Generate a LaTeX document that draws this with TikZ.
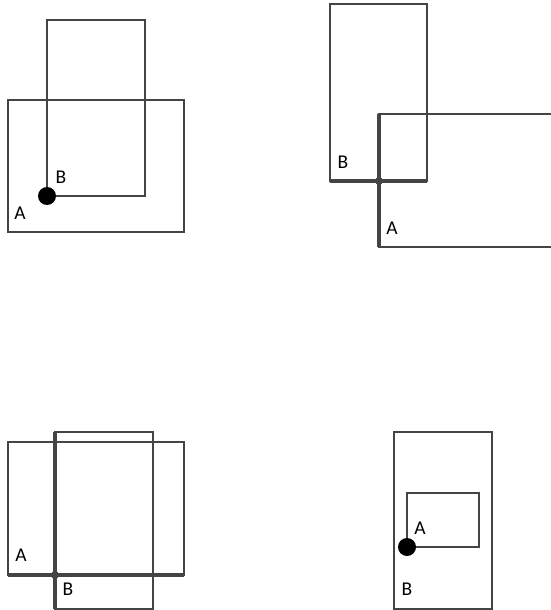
\documentclass[tikz,border=0pt]{standalone}
\usepackage{fontspec}
\setmainfont{Carlito}
\usepackage{tikz}
\usetikzlibrary{positioning}
\definecolor{edge}{HTML}{444444}
\tikzset{
  box/.style={draw=edge,line width=1.4pt},
  heavy/.style={draw=edge,line width=4.5pt},
  lbl/.style={font=\fontsize{19.5}{22}\selectfont,inner sep=0pt},
  bigdot/.style={fill=black,circle,minimum size=18pt,inner sep=0pt},
  smalldot/.style={fill=edge,circle,minimum size=8pt,inner sep=0pt}
}
\begin{document}
\begin{tikzpicture}[x=1pt,y=-1pt]
  \useasboundingbox (0,0) rectangle (551,610);
  % top left: corner point inside
  \draw[box] (8,100) rectangle (184,232);
  \draw[box] (47,20) rectangle (145,196);
  \node[bigdot] (dotab) at (47,196) {};
  \node[lbl] (bl1) at (61,177) {B};
  \node[lbl] (al1) at (20,213) {A};
  % top right: edges crossing
  \draw[box] (551,114) -- (379,114) -- (379,247) -- (551,247);
  \draw[box] (330,4) rectangle (427,181);
  \draw[heavy] (330,181) -- (427,181);
  \draw[heavy] (379,114) -- (379,247);
  \node[smalldot] (cross2) at (379,181) {};
  \node[lbl] (bl2) at (343,162) {B};
  \node[lbl] (al2) at (392,228) {A};
  % bottom left: edges crossing
  \draw[box] (8,442) rectangle (184,575);
  \draw[box] (55,432) rectangle (153,609);
  \draw[heavy] (8,575) -- (184,575);
  \draw[heavy] (55,432) -- (55,609);
  \node[smalldot] (cross3) at (55,575) {};
  \node[lbl] (al3) at (21,555) {A};
  \node[lbl] (bl3) at (68,589) {B};
  % bottom right: corner point inside
  \draw[box] (394,432) rectangle (492,609);
  \draw[box] (407,493) rectangle (479,547);
  \node[bigdot] (dotba) at (407,547) {};
  \node[lbl] (al4) at (420,528) {A};
  \node[lbl] (bl4) at (407,589) {B};
\end{tikzpicture}
\end{document}
